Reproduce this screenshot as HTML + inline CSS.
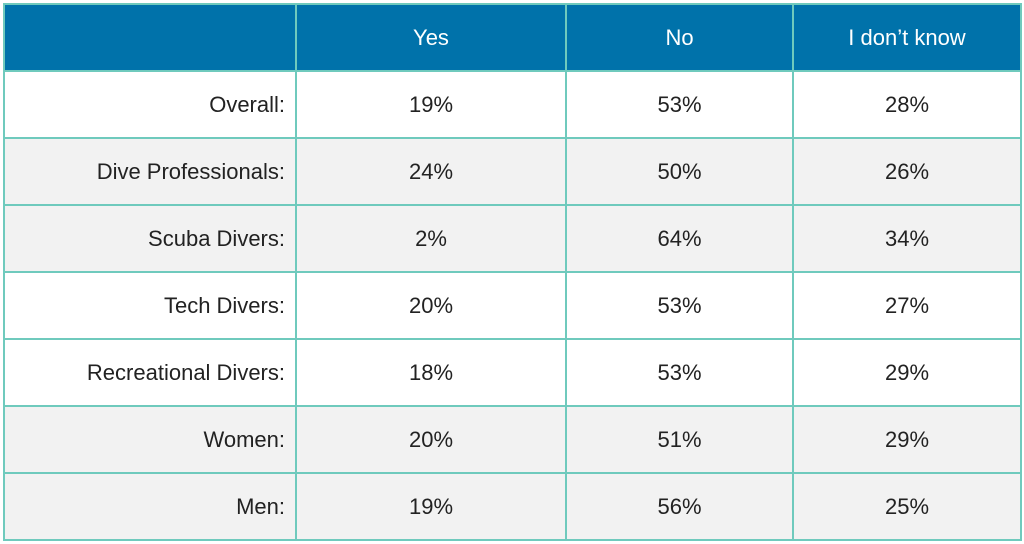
<!DOCTYPE html>
<html><head><meta charset="utf-8"><style>
html,body{margin:0;padding:0;background:#fff;width:1024px;height:544px;overflow:hidden}
table{position:absolute;left:3px;top:3px;border-collapse:collapse;font-family:"Liberation Sans",sans-serif;font-size:22px;color:#222}
td,th{border:2px solid #6fcabd;padding:0;height:65px}
th{background:#0072aa;color:#fff;font-weight:normal;height:65px}
td{text-align:center}
td.l{text-align:right;padding-right:10px}
tr.g td{background:#f2f2f2}
</style></head><body>
<table>
<colgroup><col style="width:292px"><col style="width:270px"><col style="width:227px"><col style="width:228px"></colgroup>
<tr><th></th><th>Yes</th><th>No</th><th>I don’t know</th></tr>
<tr><td class="l">Overall:</td><td>19%</td><td>53%</td><td>28%</td></tr>
<tr class="g"><td class="l">Dive Professionals:</td><td>24%</td><td>50%</td><td>26%</td></tr>
<tr class="g"><td class="l">Scuba Divers:</td><td>2%</td><td>64%</td><td>34%</td></tr>
<tr><td class="l">Tech Divers:</td><td>20%</td><td>53%</td><td>27%</td></tr>
<tr><td class="l">Recreational Divers:</td><td>18%</td><td>53%</td><td>29%</td></tr>
<tr class="g"><td class="l">Women:</td><td>20%</td><td>51%</td><td>29%</td></tr>
<tr class="g"><td class="l">Men:</td><td>19%</td><td>56%</td><td>25%</td></tr>
</table>
</body></html>
